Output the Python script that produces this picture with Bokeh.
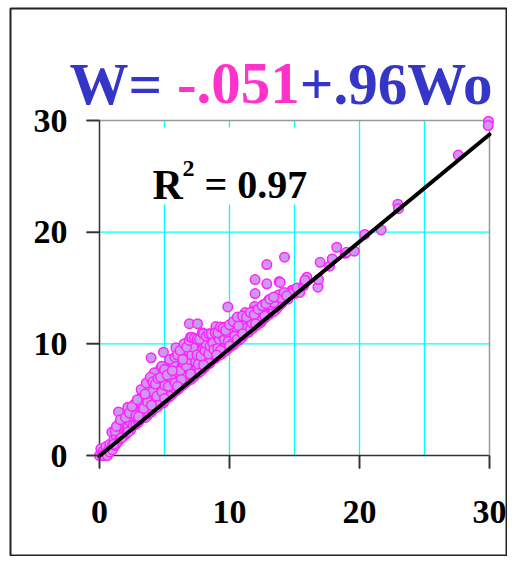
import math
from bokeh.plotting import figure
from bokeh.models import Label, FixedTicker, Range1d, LinearAxis
from bokeh.embed import file_html
from bokeh.resources import INLINE

# ---- data ----
wo = [0.0,0.1,0.2,0.3,0.4,0.5,0.6,0.7,0.8,0.9,1.0,0.95,0.3,0.6,0.8,1.0,
      1.1,1.2,1.3,1.4,1.46,1.5,1.6,1.7,1.8,1.9,2.0,1.2,1.5,1.8,1.1,1.7,
      2.1,2.18,2.2,2.3,2.4,2.5,2.6,2.7,2.8,2.9,3.0,2.4,2.6,2.9,3.0,2.2,
      3.1,3.2,3.3,3.4,3.5,3.6,3.7,3.8,3.9,4.0,3.97,3.3,3.6,3.9,3.5,3.8,4.0,
      4.1,4.2,4.3,4.4,4.5,4.6,4.7,4.8,4.9,5.0,4.92,4.3,4.5,4.7,4.9,5.0,4.4,4.6,4.2,
      5.1,5.2,5.3,5.4,5.5,5.6,5.7,5.8,5.87,5.9,6.0,5.2,5.5,5.3,5.9,6.0,5.6,5.4,
      6.1,6.2,6.3,6.4,6.5,6.6,6.7,6.8,6.9,6.92,7.0,6.2,6.5,6.8,7.0,6.4,6.9,6.6,
      7.1,7.2,7.3,7.4,7.5,7.54,7.6,7.7,7.8,7.9,8.0,7.3,7.6,7.9,8.0,7.2,7.7,
      8.1,8.2,8.3,8.4,8.5,8.6,8.7,8.8,8.95,8.9,9.0,8.3,8.6,9.0,8.5,8.8,
      9.1,9.2,9.3,9.4,9.5,9.6,9.7,9.8,9.87,9.87,9.9,10.0,9.4,9.7,10.0,9.2,9.6,
      10.1,10.2,10.3,10.4,10.5,10.6,10.7,10.8,10.95,10.9,11.0,10.4,10.7,11.0,10.3,10.8,
      11.1,11.2,11.3,11.4,11.5,11.6,11.7,11.8,11.92,11.97,11.97,11.9,12.0,11.5,11.2,11.8,
      12.1,12.2,12.36,12.4,12.5,12.6,12.7,12.87,12.87,12.8,12.9,13.0,12.3,12.6,
      13.1,13.2,13.3,13.5,13.6,13.82,13.8,13.9,14.0,13.4,13.7,
      14.23,14.3,14.5,14.8,14.9,15.0,15.4,15.2,15.7,15.8,15.95,15.8,14.6,
      16.8,16.85,16.97,17.7,17.9,18.25,18.9,19.0,19.6,20.4,21.67,22.95,23.0,27.6,29.92,29.9,
      1.3,1.6,2.0,2.3,2.7,2.8,3.1,3.3,3.4,3.7,
      3.8,4.0,4.1,4.2,4.4,4.6,4.8,4.9,5.0,5.1,
      5.3,5.5,5.7,5.8,6.0,6.1,6.2,6.3,6.5,6.6,
      6.7,6.8,6.9,7.0,7.1,7.2,7.4,7.5,7.6,7.8,7.9,
      8.1,8.2,8.4,8.5,8.7,8.8,9.0,9.1,9.2,9.3,9.5,
      9.6,9.8,9.9,10.1,10.2,10.4,10.5,10.6,10.8,10.9,11.0,
      11.1,11.3,11.4,11.6,11.7,12.0,12.1,12.3,12.5,12.7,12.9,13.0,13.2,13.4,13.6,13.8,14.0,14.2,14.4,
      2.5,2.9,3.2,3.5,3.6,3.9,4.1,4.3,4.5,4.7,4.8,5.0,5.2,5.4,5.6,5.8,6.0,6.2,6.4,6.5,
      6.7,6.9,7.0,7.1,7.3,7.5,7.7,7.9,8.0,8.2,8.4,8.6,8.9,9.1,9.3,9.5,9.7,10.0,10.3,10.6,
      10.7,11.0,11.3,11.6,11.9,12.2,12.5,12.8,13.1,13.4,
      3.0,4.0,5.0,6.0,7.0,8.0,9.0,10.0,11.0,12.0]
w = [0.0,0.6,0.1,0.4,0.2,0.8,0.3,0.5,1.0,0.6,0.9,2.1,0.0,0.0,0.3,0.5,
     1.4,0.9,1.7,1.2,3.9,2.0,1.5,2.3,1.7,2.6,1.9,2.2,2.8,3.0,1.0,1.6,
     2.2,4.33,2.6,3.1,2.3,3.5,2.7,3.9,2.8,3.3,3.0,3.8,4.2,4.5,4.0,2.1,
     3.2,3.8,4.6,3.4,4.1,5.0,3.6,4.4,5.4,3.9,8.75,5.5,6.0,6.4,3.4,3.8,5.0,
     4.1,4.8,5.6,6.6,4.4,5.2,6.0,7.0,4.7,5.5,9.25,7.2,7.4,7.8,6.5,4.9,4.3,4.6,6.1,
     5.9,6.7,5.2,7.4,6.2,5.5,7.0,7.9,9.65,5.8,6.6,8.0,8.3,7.7,7.3,8.2,6.4,5.3,
     6.0,7.0,8.4,6.3,7.6,8.9,6.6,7.3,9.9,11.8,6.8,8.8,9.2,8.5,9.3,7.9,7.7,6.5,
     7.8,8.6,7.1,9.6,8.0,11.8,7.4,9.0,10.0,7.7,8.6,9.9,10.3,9.4,10.4,7.0,7.5,
     7.9,8.9,9.7,8.2,10.2,8.5,9.3,10.6,11.55,8.7,9.6,10.5,10.8,10.3,8.3,9.0,
     8.9,9.8,10.6,9.1,10.1,11.0,9.4,10.4,11.04,13.3,9.6,10.0,11.2,11.5,10.8,9.0,9.3,
     9.8,10.6,11.3,10.1,10.9,11.8,10.3,11.1,11.19,10.6,11.6,12.0,12.3,10.6,9.9,10.4,
     10.8,11.5,12.2,11.0,11.8,12.5,12.4,11.4,13.34,14.5,15.76,12.0,11.6,11.1,12.8,12.9,
     11.7,12.4,12.8,11.9,13.0,12.2,13.3,15.37,17.1,12.4,13.1,12.6,12.0,13.5,
     13.6,12.8,13.2,13.9,13.1,15.58,13.4,15.5,13.6,12.9,14.1,
     17.76,14.2,14.0,14.8,14.8,14.5,14.6,15.0,15.2,15.5,15.97,15.7,14.5,
     15.07,15.76,17.3,16.95,17.6,18.65,18.1,18.2,18.3,19.8,20.2,22.5,22.1,26.9,29.94,29.55,
     2.6,3.2,3.4,3.8,4.6,3.6,4.8,5.2,4.2,4.8,
     5.8,6.8,5.7,7.4,5.3,6.8,5.7,7.6,6.3,7.2,
     6.2,7.0,8.3,6.5,7.5,8.9,7.6,6.8,8.2,9.6,
     8.0,9.4,8.6,10.1,9.0,9.7,8.4,9.0,8.2,8.9,10.6,
     9.4,10.0,9.1,9.8,10.1,9.5,10.8,9.6,10.4,9.4,10.7,
     10.4,11.0,10.2,11.2,10.0,10.7,11.5,10.4,11.8,11.3,11.0,
     11.6,11.4,12.4,11.3,11.9,12.4,13.0,12.6,12.4,12.5,13.6,13.9,13.5,13.7,14.2,14.4,14.1,14.6,14.3,
     4.4,5.0,5.9,5.5,6.5,7.0,6.6,6.4,6.9,7.0,8.0,7.7,7.2,8.6,7.6,8.8,9.0,9.4,8.6,10.0,
     9.7,10.3,10.6,10.6,10.5,10.4,10.4,11.0,10.9,10.7,10.9,10.9,11.0,11.0,11.5,11.4,11.2,11.7,12.0,12.4,
     11.6,12.5,12.4,12.8,12.6,13.1,13.4,13.6,14.0,14.2,
     3.5,4.5,5.1,6.2,7.3,8.1,9.0,9.8,10.9,11.8]

intercept = -0.051
slope = 0.96
r2 = 0.97
axis_ticks = [0, 10, 20, 30]
xgrid_ticks = [5, 10, 15, 20, 25]
ygrid_ticks = [10, 20]
lo, hi = 0, 30

# ---- layout: the frame is the whole bordered box; plot area lives inside ----
SH = -2                    # horizontal shift vs. the reference, so that "30" fits
CW, CH = 507, 556          # canvas
FL, FT = 12 + SH, 8        # frame (outer border) left / top
PX0, PY0 = 101 + SH, 455   # pixel of data (0, 0)
SX, SY = 390 / 30, 335 / 30

def dx(px):                # reference pixel -> data x
    return (px + SH - PX0) / SX
def dy(py):
    return (PY0 - py) / SY

p = figure(frame_width=CW - FL, frame_height=CH - FT,
           x_range=Range1d((FL - PX0) / SX, (CW - PX0) / SX), y_range=Range1d(dy(CH), dy(FT)),
           x_axis_location=None, y_axis_location=None,
           output_backend="svg", toolbar_location=None,
           min_border_left=FL, min_border_top=FT, min_border_right=0, min_border_bottom=0)
p.grid.visible = False
p.background_fill_color = "white"
p.border_fill_color = "white"
p.outline_line_color = "#222222"
p.outline_line_width = 2

TICK = 13                  # outward tick length, px
def style_axis(ax, standoff):
    ax.ticker = FixedTicker(ticks=axis_ticks)
    ax.bounds = (lo, hi)
    ax.axis_line_color = "#333333"
    ax.axis_line_width = 1.5
    ax.major_tick_line_color = "#333333"
    ax.major_tick_line_width = 1.5
    ax.major_tick_out = TICK
    ax.major_tick_in = 0
    ax.minor_tick_out = 0
    ax.minor_tick_in = 0
    ax.major_label_text_font = "Liberation Serif"
    ax.major_label_text_font_style = "bold"
    ax.major_label_text_font_size = "34px"
    ax.major_label_text_color = "black"
    ax.major_label_standoff = standoff
    ax.level = "underlay"

xax = LinearAxis(fixed_location=lo)
style_axis(xax, 32)
p.add_layout(xax, "below")
yax = LinearAxis(fixed_location=lo)
style_axis(yax, 19)
p.add_layout(yax, "left")

for loc in ("above", "right"):
    bx = LinearAxis(fixed_location=hi, bounds=(lo, hi), ticker=FixedTicker(ticks=[]),
                    axis_line_color="#999999", axis_line_width=1.5,
                    major_tick_out=0, major_tick_in=0, minor_tick_out=0, minor_tick_in=0,
                    major_label_text_font_size="0px", level="underlay")
    p.add_layout(bx, loc)

# grid lines limited to the plot area
p.segment(x0=xgrid_ticks, y0=[lo] * len(xgrid_ticks), x1=xgrid_ticks, y1=[hi] * len(xgrid_ticks),
          line_color="#00FFFF", line_width=1.3, level="underlay")
p.segment(x0=[lo] * len(ygrid_ticks), y0=ygrid_ticks, x1=[hi] * len(ygrid_ticks), y1=ygrid_ticks,
          line_color="#00FFFF", line_width=1.3, level="underlay")

# white backing of the R^2 label
p.quad(left=dx(112), right=dx(330), bottom=dy(204), top=dy(127),
       fill_color="white", line_color=None)

p.scatter(wo, w, size=9.5, fill_color="#CC99EE", line_color="#FF22FF", line_width=1.5)
xs = [lo, hi]
p.line(xs, [intercept + slope * v for v in xs], line_color="black", line_width=4, line_cap="round")

# outward tick marks at the axis ticks (TICK px long), drawn last
n = len(axis_ticks)
p.scatter(x=axis_ticks, y=[lo - TICK / 2 / SY] * n, marker="dash", size=TICK, angle=math.pi / 2,
          line_color="#333333", line_width=1.6, level="overlay")
p.scatter(x=[lo - TICK / 2 / SX] * n, y=axis_ticks, marker="dash", size=TICK,
          line_color="#333333", line_width=1.6, level="overlay")

common = dict(text_font="Liberation Serif", text_font_style="bold", text_baseline="alphabetic")
p.add_layout(Label(x=dx(154), y=dy(184), text="R", text_font_size="42px", text_color="black", **common))
p.add_layout(Label(x=dx(184), y=dy(168), text="2", text_font_size="24px", text_color="black", **common))
p.add_layout(Label(x=dx(206), y=dy(184), text=f"= {r2:.2f}", text_font_size="40px", text_color="black", **common))

blue, pink = "#3535C8", "#FF33CC"
fs = 59
x0 = 71
p.add_layout(Label(x=dx(x0), y=dy(83), text="W= ", text_font_size=f"{fs}px", text_color=blue, **common))
p.add_layout(Label(x=dx(x0 + 1.820 * fs), y=dy(83), text=f"-{abs(intercept):.3f}".replace("0.", "."),
                   text_font_size=f"{fs}px", text_color=pink, **common))
p.add_layout(Label(x=dx(x0 + 3.903 * fs), y=dy(83), text=f"+{slope:.2f}".replace("0.", ".") + "Wo",
                   text_font_size=f"{fs}px", text_color=blue, **common))

open("out.html", "w").write(file_html(p, INLINE))
